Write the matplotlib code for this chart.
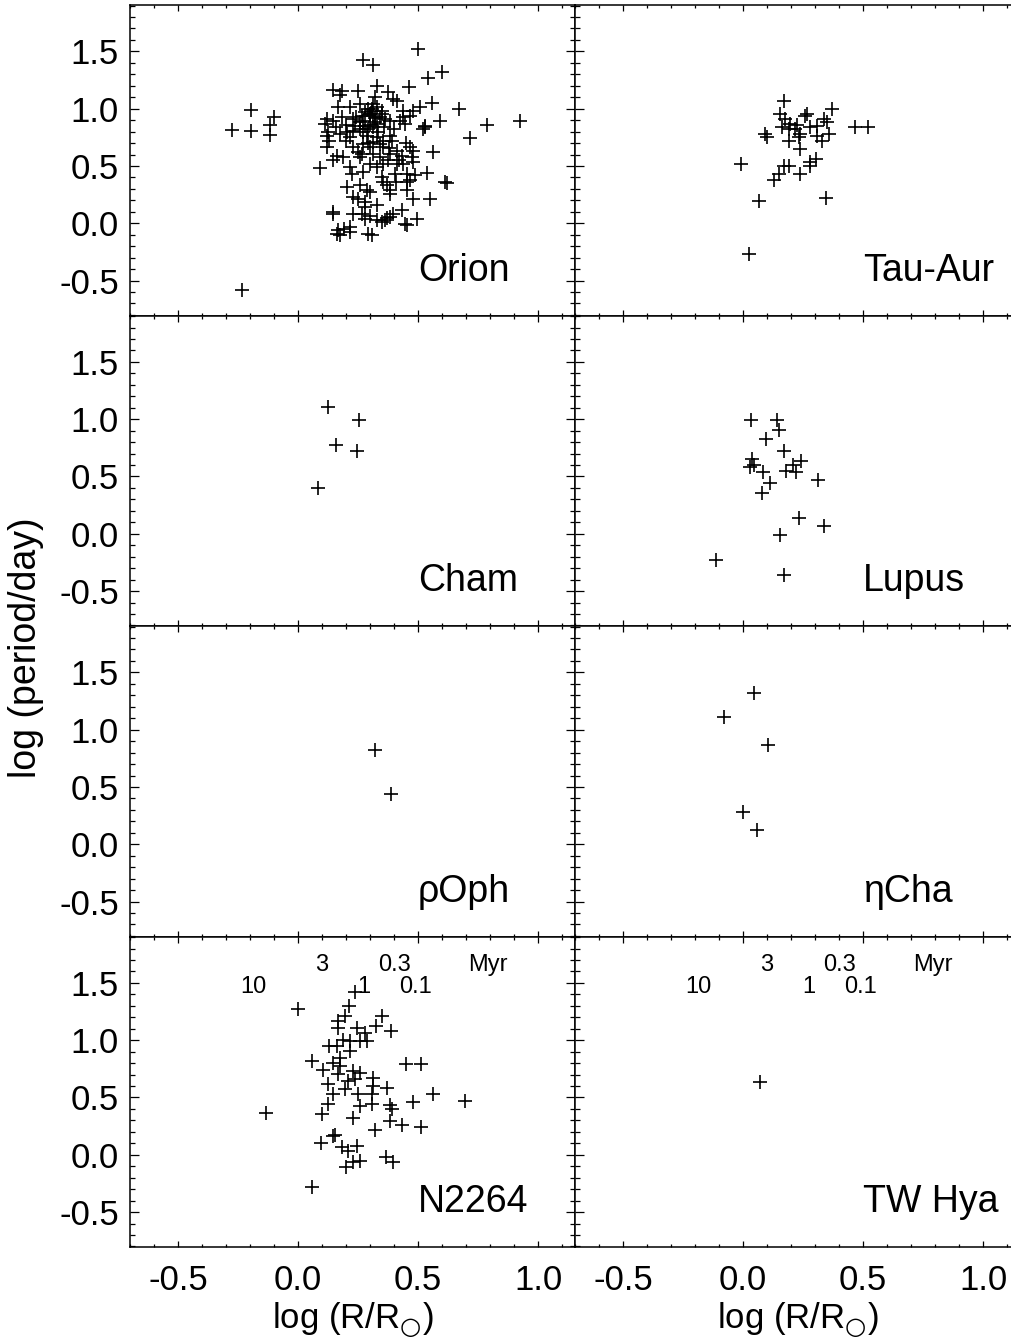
import matplotlib.pyplot as plt
import numpy as np
from matplotlib.ticker import MultipleLocator, FormatStrFormatter

plt.rcParams['font.family'] = ['Liberation Sans', 'DejaVu Sans']
plt.rcParams['axes.unicode_minus'] = False
plt.rcParams['mathtext.fontset'] = 'dejavusans'

# (log R/Rsun, log period/day)
orion_pts = [
    (-0.276, 0.815), (-0.196, 0.989), (-0.196, 0.803), (-0.117, 0.861), (-0.117, 0.774),
    (-0.099, 0.925), (-0.232, -0.583),
    (0.500, 1.519), (0.272, 1.423), (0.311, 1.380), (0.543, 1.272), (0.599, 1.316),
    (0.464, 1.191), (0.672, 0.997), (0.925, 0.890), (0.786, 0.861), (0.717, 0.745),
    (0.557, 1.046), (0.592, 0.896), (0.529, 0.843), (0.564, 0.626), (0.613, 0.359),
    (0.550, 0.209), (0.480, 0.215), (0.494, 0.040), (0.446, -0.003), (0.092, 0.481),
    (0.161, -0.090), (0.147, 0.099),
    (0.147, 1.162), (0.175, 1.122), (0.182, 1.157), (0.251, 1.151), (0.328, 1.200),
    (0.376, 1.142), (0.321, 1.099), (0.397, 1.084), (0.411, 1.070), (0.314, 1.041),
    (0.168, 1.012), (0.217, 1.012), (0.258, 1.041), (0.293, 0.997), (0.307, 0.983),
    (0.328, 1.012), (0.314, 0.939), (0.342, 0.925), (0.363, 0.910), (0.439, 0.983),
    (0.481, 0.983), (0.508, 1.012), (0.439, 0.925), (0.467, 0.939), (0.119, 0.910),
    (0.113, 0.867), (0.147, 0.896), (0.182, 0.925), (0.231, 0.910), (0.265, 0.939),
    (0.383, 0.896), (0.425, 0.896), (0.126, 0.794), (0.119, 0.765), (0.175, 0.780),
    (0.203, 0.794), (0.231, 0.809), (0.258, 0.823), (0.279, 0.852), (0.293, 0.823),
    (0.314, 0.838), (0.335, 0.794), (0.217, 0.751), (0.286, 0.765), (0.383, 0.765),
    (0.390, 0.722), (0.446, 0.867), (0.522, 0.823), (0.529, 0.852), (0.119, 0.664),
    (0.231, 0.664), (0.272, 0.693), (0.314, 0.707), (0.356, 0.664), (0.411, 0.635),
    (0.467, 0.664), (0.481, 0.635), (0.161, 0.591), (0.189, 0.577), (0.147, 0.548),
    (0.265, 0.606), (0.314, 0.606), (0.342, 0.577), (0.383, 0.606), (0.432, 0.591),
    (0.474, 0.577), (0.376, 0.548), (0.411, 0.519), (0.258, 0.577), (0.356, 0.519),
    (0.439, 0.519), (0.481, 0.533), (0.217, 0.490), (0.224, 0.432), (0.272, 0.446),
    (0.328, 0.490), (0.404, 0.432), (0.453, 0.432), (0.488, 0.417), (0.536, 0.438),
    (0.203, 0.316), (0.356, 0.359), (0.369, 0.330), (0.383, 0.287), (0.453, 0.359),
    (0.467, 0.374), (0.286, 0.287), (0.300, 0.272), (0.619, 0.351), (0.231, 0.229),
    (0.251, 0.214), (0.279, 0.186), (0.279, 0.142), (0.383, 0.258), (0.453, 0.287),
    (0.231, 0.084), (0.279, 0.041), (0.328, 0.026), (0.349, 0.012), (0.363, 0.026),
    (0.383, 0.055), (0.397, 0.084), (0.432, 0.113), (0.453, -0.017), (0.147, 0.084),
    (0.168, -0.061), (0.175, -0.104), (0.217, -0.032), (0.217, -0.075), (0.293, -0.090),
    (0.307, -0.104), (0.265, 0.084), (0.300, 0.954), (0.321, 0.881), (0.349, 0.983),
    (0.272, 0.896), (0.238, 0.852), (0.328, 0.751), (0.356, 0.722), (0.300, 0.664),
    (0.300, 0.950), (0.320, 0.920), (0.280, 0.970), (0.330, 0.870), (0.260, 0.880),
    (0.300, 0.860), (0.350, 0.950), (0.310, 1.000), (0.270, 0.800), (0.240, 0.930),
    (0.200, 0.860), (0.160, 0.840), (0.360, 0.840), (0.400, 0.820), (0.340, 0.690),
    (0.290, 0.700), (0.250, 0.620), (0.380, 0.660), (0.420, 0.550), (0.300, 0.520),
    (0.200, 0.720), (0.130, 0.720), (0.450, 0.700), (0.350, 0.400), (0.410, 0.360),
    (0.260, 0.330), (0.330, 0.160), (0.370, 0.050), (0.300, 0.060), (0.190, -0.050),
]
tauaur_pts = [
    (0.169, 1.064), (0.156, 0.954), (0.176, 0.910), (0.197, 0.867), (0.225, 0.861),
    (0.267, 0.954), (0.260, 0.939), (0.163, 0.838), (0.190, 0.823), (0.218, 0.823),
    (0.239, 0.780), (0.190, 0.722), (0.232, 0.751), (0.239, 0.649), (0.281, 0.838),
    (0.308, 0.852), (0.336, 0.910), (0.350, 0.881), (0.308, 0.765), (0.329, 0.722),
    (0.357, 0.780), (0.371, 0.997), (0.468, 0.843), (0.521, 0.843), (0.093, 0.780),
    (0.100, 0.757), (-0.007, 0.513), (0.169, 0.504), (0.190, 0.504), (0.149, 0.432),
    (0.128, 0.374), (0.236, 0.432), (0.281, 0.533), (0.306, 0.562), (0.281, 0.496),
    (0.065, 0.191), (0.347, 0.223), (0.024, -0.272),
]
cham_pts = [(0.126, 1.107), (0.256, 0.991), (0.158, 0.774), (0.244, 0.725), (0.082, 0.403)]
lupus_pts = [
    (0.033, 0.997), (0.142, 0.997), (0.149, 0.904), (0.097, 0.826), (0.172, 0.725),
    (0.038, 0.652), (0.031, 0.586), (0.044, 0.600), (0.083, 0.536), (0.181, 0.551),
    (0.208, 0.600), (0.222, 0.536), (0.243, 0.638), (0.111, 0.441), (0.079, 0.359),
    (0.311, 0.470), (0.232, 0.136), (0.336, 0.072), (0.153, -0.014), (-0.111, -0.232),
    (0.172, -0.362),
]
rhooph_pts = [(0.321, 0.826), (0.388, 0.435)]
etacha_pts = [(-0.078, 1.113), (0.047, 1.322), (0.105, 0.870), (0.000, 0.278), (0.060, 0.122)]
n2264_pts = [
    (0.000, 1.272), (0.238, 1.417), (0.214, 1.296), (0.196, 1.209), (0.168, 1.165),
    (0.168, 1.107), (0.244, 1.107), (0.279, 1.064), (0.325, 1.122), (0.349, 1.209),
    (0.386, 1.084), (0.189, 1.006), (0.217, 0.991), (0.258, 0.991), (0.286, 0.991),
    (0.131, 0.948), (0.161, 0.948), (0.217, 0.904), (0.175, 0.846), (0.057, 0.817),
    (0.147, 0.803), (0.175, 0.774), (0.106, 0.736), (0.168, 0.701), (0.231, 0.730),
    (0.258, 0.716), (0.314, 0.672), (0.208, 0.643), (0.238, 0.658), (0.126, 0.614),
    (0.314, 0.600), (0.369, 0.586), (0.147, 0.528), (0.196, 0.571), (0.251, 0.528),
    (0.307, 0.528), (0.126, 0.446), (0.258, 0.426), (0.307, 0.446), (0.383, 0.435),
    (0.390, 0.397), (0.478, 0.464), (0.561, 0.528), (0.696, 0.470), (0.450, 0.794),
    (0.513, 0.794), (-0.135, 0.368), (0.099, 0.354), (0.231, 0.319), (0.383, 0.296),
    (0.432, 0.261), (0.513, 0.243), (0.321, 0.214), (0.147, 0.165), (0.154, 0.174),
    (0.096, 0.101), (0.182, 0.064), (0.210, 0.035), (0.247, 0.078), (0.231, -0.067),
    (0.258, -0.052), (0.200, -0.110), (0.365, -0.023), (0.394, -0.067), (0.060, -0.284),
]
twhya_pts = [(0.072, 0.638)]

panels = [
    ('Orion', orion_pts), ('Tau-Aur', tauaur_pts),
    ('Cham', cham_pts), ('Lupus', lupus_pts),
    ('\u03c1Oph', rhooph_pts), ('\u03b7Cha', etacha_pts),
    ('N2264', n2264_pts), ('TW Hya', twhya_pts),
]

# isochrone age labels (Myr) at top of the bottom row
age_upper = ['3', '0.3', 'Myr']
age_upper_x = [0.10, 0.40, 0.79]
age_lower = ['10', '1', '0.1']
age_lower_x = [-0.185, 0.274, 0.4875]

W, H = 1012, 1344
fig = plt.figure(figsize=(W / 100, H / 100), dpi=100)
left0, colw = 130, 445
top0, rowh = 5, 310.5

for i, (name, pts) in enumerate(panels):
    r, c = divmod(i, 2)
    ax = fig.add_axes([(left0 + c * colw) / W, 1 - (top0 + (r + 1) * rowh) / H,
                       colw / W, rowh / H])
    xs, ys = np.array(pts).T
    ax.plot(xs, ys, '+', color='black', markersize=9.5, mew=1.2)
    ax.set_xlim(-0.7, 1.154)
    ax.set_ylim(-0.805, 1.905)
    ax.xaxis.set_major_locator(MultipleLocator(0.5))
    ax.xaxis.set_minor_locator(MultipleLocator(0.1))
    ax.yaxis.set_major_locator(MultipleLocator(0.5))
    ax.yaxis.set_minor_locator(MultipleLocator(0.1))
    ax.xaxis.set_major_formatter(FormatStrFormatter('%.1f'))
    ax.yaxis.set_major_formatter(FormatStrFormatter('%.1f'))
    ax.tick_params(which='both', direction='in', top=True, right=True, color='black', width=0.9)
    ax.tick_params(axis='x', which='major', length=4.5, pad=12, labelsize=25)
    ax.tick_params(axis='x', which='minor', length=2.5)
    ax.tick_params(axis='y', which='major', length=6.5, pad=8, labelsize=25)
    ax.tick_params(axis='y', which='minor', length=3.6)
    for s in ax.spines.values():
        s.set_linewidth(1.1)
    if c != 0:
        ax.tick_params(axis='y', labelleft=False)
    if r != 3:
        ax.tick_params(axis='x', labelbottom=False)
    ax.text(0.5, -0.5, name, fontsize=27, ha='left', va='baseline')
    if r == 3:
        for lab, x in zip(age_upper, age_upper_x):
            ax.text(x, 1.604, lab, fontsize=17, ha='center', va='baseline')
        for lab, x in zip(age_lower, age_lower_x):
            ax.text(x, 1.413, lab, fontsize=17, ha='center', va='baseline')

for c in range(2):
    fig.text((left0 + c * colw + colw / 2) / W, 1 - 1328 / H, r'log (R/R$_{\bigcirc}$)',
             fontsize=25, ha='center', va='baseline')
fig.text(26 / W, 1 - 648 / H, 'log (period/day)', fontsize=27, rotation=90,
         ha='center', va='center')

fig.savefig('out.png', dpi=100)
